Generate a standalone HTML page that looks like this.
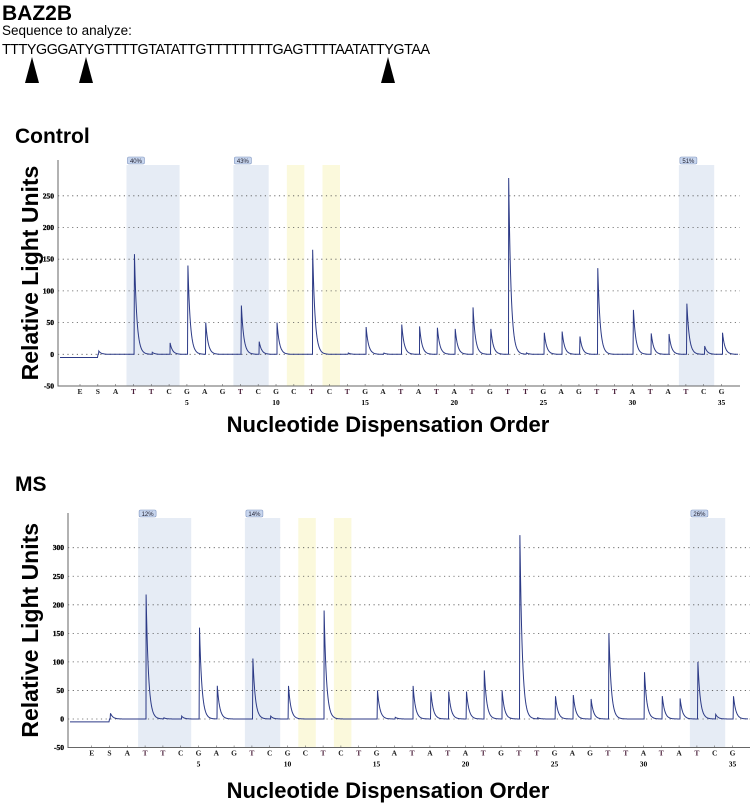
<!DOCTYPE html>
<html><head><meta charset="utf-8"><style>
body{margin:0;width:750px;height:805px;background:#fff;overflow:hidden;font-family:"Liberation Sans",sans-serif}
svg{position:absolute;left:0;top:0}
</style></head><body>
<svg id="s" width="750" height="805">
<text x="2" y="20" font-size="21" font-weight="bold">BAZ2B</text>
<text x="2" y="35" font-size="13.5">Sequence to analyze:</text>
<text x="2" y="54" font-size="14.3" textLength="428">TTTYGGGATYGTTTTGTATATTGTTTTTTTTGAGTTTTAATATTYGTAA</text>
<polygon points="32,57 25,83 39,83" fill="#000"/>
<polygon points="86,57 79,83 93,83" fill="#000"/>
<polygon points="388,57 381,83 395,83" fill="#000"/>
<text x="15" y="143" font-size="21" font-weight="bold">Control</text>
<text x="15" y="491" font-size="21" font-weight="bold">MS</text>
<g id="c1"></g><g id="c2"></g>
</svg>
<script>
const letters=["E","S","A","T","T","C","G","A","G","T","C","G","C","T","C","T","G","A","T","A","T","A","T","G","T","T","G","A","G","T","T","A","T","A","T","C","G"];
const controlPeaks=[0,5,0,158,3,18,140,50,0,77,20,50,0,165,0,2,43,2,47,44,42,40,74,40,278,2,34,36,28,136,0,70,33,32,80,13,34];
const msPeaks=[0,10,0,218,2,5,160,58,0,106,5,58,0,190,0,0,50,3,58,48,48,48,85,50,322,2,40,42,35,150,0,82,40,36,100,8,40];
const controlTicks=[-50,0,50,100,150,200,250];
const msTicks=[-50,0,50,100,150,200,250,300];
const controlBands=[[3,5,"40%","b"],[9,10,"43%","b"],[12,12,"","y"],[14,14,"","y"],[34,35,"51%","b"]];
const msBands=[[3,5,"12%","b"],[9,10,"14%","b"],[12,12,"","y"],[14,14,"","y"],[34,35,"26%","b"]];
const NS="http://www.w3.org/2000/svg";
function mk(p,t,a){const e=document.createElementNS(NS,t);for(const k in a)e.setAttribute(k,a[k]);p.appendChild(e);return e;}
function chart(g,cfg){
 const xs=i=>cfg.x0+i*cfg.sp;
 const ys=v=>cfg.y0-v*cfg.py;
 const top=cfg.top, bot=ys(-50);
 cfg.bands.forEach(b=>{
  const r=mk(g,"rect",{x:xs(b[0])-7,y:top+5,width:xs(b[1])+10.5-(xs(b[0])-7),height:bot-top-5,fill:b[3]=="b"?"#e6ecf5":"#fbf9dc"});
  
  
  if(b[2]){
   const bx=mk(g,"rect",{x:xs(b[0])-6,y:top-3,width:17,height:7,rx:1.5,fill:"#c8d6ee",stroke:"#7f95c0","stroke-width":0.6});
   
   
   const t=mk(g,"text",{x:xs(b[0])+2.5,y:top+3,"font-size":6,"text-anchor":"middle",fill:"#223"});t.textContent=b[2];
   
   
  }
 });
 cfg.ticks.forEach(v=>{
  const l=mk(g,"line",{x1:cfg.ax,x2:cfg.xr,y1:ys(v),y2:ys(v),stroke:"#555","stroke-width":0.8,"stroke-dasharray":"1.2,3.5"});
  
  
  const t=mk(g,"text",{x:cfg.ax-4,y:ys(v)+2.5,"font-size":7.5,"font-weight":"bold","text-anchor":"end","font-family":"Liberation Serif, serif",stroke:"#000","stroke-width":0.3});t.textContent=v;
  
  
 });
 const ax=mk(g,"path",{d:`M${cfg.ax},${top} V${bot} H${cfg.xr}`,stroke:"#666","stroke-width":1,fill:"none"});
 
 
 letters.forEach((L,i)=>{
  const t=mk(g,"text",{x:xs(i),y:bot+8,"font-size":7.5,"font-weight":"bold","text-anchor":"middle","font-family":"Liberation Serif, serif",fill:L=="T"?"#4a1f3a":"#222"});t.textContent=L;
  
  
  mk(g,"line",{x1:xs(i),x2:xs(i),y1:bot,y2:bot-2,stroke:"#666","stroke-width":0.6});
  if(i>=2&&(i-1)%5==0){const n=mk(g,"text",{x:xs(i),y:bot+19,"font-size":7.5,"font-weight":"bold","text-anchor":"middle","font-family":"Liberation Serif, serif"});n.textContent=i-1;
   
   }
 });
 // trace: sample grid plus exact peak apex points
 const pts=[];
 for(let x=cfg.ax+2;x<=cfg.xr-2;x+=0.5)pts.push(x);
 cfg.peaks.forEach((h,i)=>{const xp=xs(i)+1;pts.push(xp-0.4,xp);});
 pts.sort((a,b)=>a-b);
 let d="";
 pts.forEach(x=>{
  let v=x<xs(1)?-5:0;
  cfg.peaks.forEach((h,i)=>{const xp=xs(i)+1;if(x>=xp-1e-6)v+=h*Math.exp(-Math.max(0,x-xp)/2.4);});
  d+=(d?"L":"M")+x.toFixed(2)+","+ys(v).toFixed(1);
 });
 const tr=mk(g,"path",{d:d,stroke:"#2c3a86","stroke-width":1,fill:"none"});
 
 
 const yt=mk(g,"text",{transform:`translate(${cfg.ytx},${(top+bot)/2}) rotate(-90)`,"font-size":23,"font-weight":"bold","text-anchor":"middle"});yt.textContent="Relative Light Units";
 
 
 const xt=mk(g,"text",{x:cfg.xtx,y:cfg.xty,"font-size":22,"font-weight":"bold","text-anchor":"middle"});xt.textContent="Nucleotide Dispensation Order";
 
 
}
const g1=document.getElementById("c1");


const g2=document.getElementById("c2");


chart(g1,{x0:80,sp:17.82,y0:354.3,py:31.7/50,top:160,ax:58,xr:740,peaks:controlPeaks,bands:controlBands,ticks:controlTicks,ytx:38,xtx:388,xty:432});
chart(g2,{x0:91.7,sp:17.8,y0:719,py:28.55/50,top:513,ax:68,xr:750,peaks:msPeaks,bands:msBands,ticks:msTicks,ytx:38,xtx:388,xty:798});
</script>
</body></html>
